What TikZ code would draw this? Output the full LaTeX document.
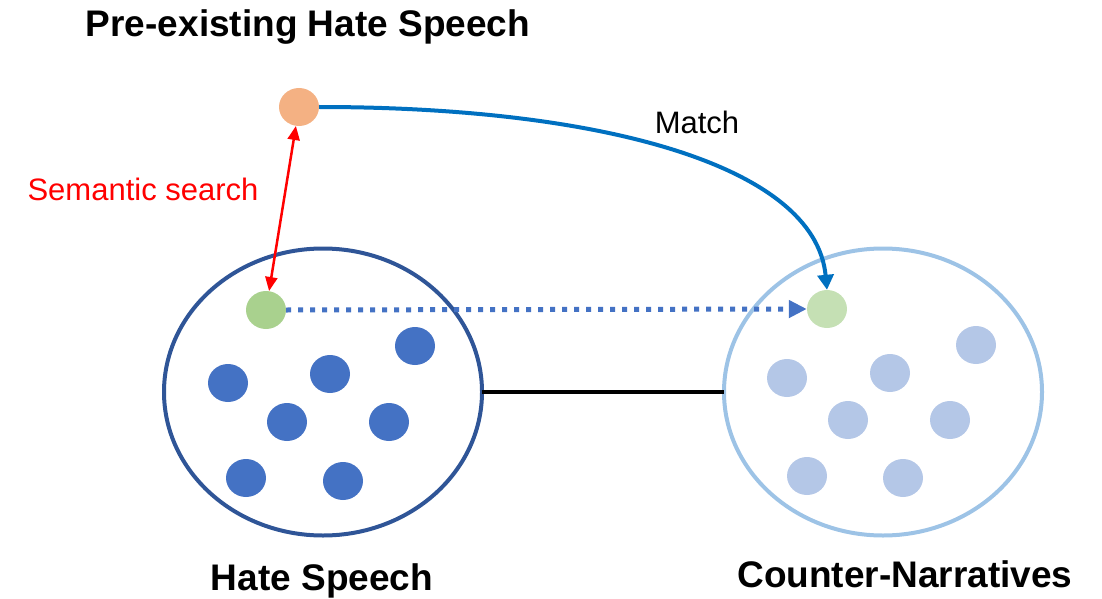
\documentclass[tikz,border=0pt]{standalone}
\usepackage{fontspec}
\setmainfont{Liberation Sans}
\usetikzlibrary{shapes.geometric,arrows.meta}
\definecolor{orng}{HTML}{F4B183}
\definecolor{grn}{HTML}{A9D18E}
\definecolor{lgrn}{HTML}{C5E0B4}
\definecolor{dotblue}{HTML}{4472C4}
\definecolor{ldotblue}{HTML}{B4C7E7}
\definecolor{darkring}{HTML}{2F5597}
\definecolor{lightring}{HTML}{9DC3E6}
\definecolor{curveblue}{HTML}{0070C0}
\tikzset{
  dot/.style={ellipse,inner sep=0pt,minimum width=40pt,minimum height=38pt,fill=#1,draw=none},
  ring/.style={ellipse,inner sep=0pt,outer sep=0pt,minimum width=318pt,minimum height=287pt,draw=#1,line width=4pt},
  title/.style={font=\fontsize{37}{40}\selectfont\bfseries,anchor=base},
  lbl/.style={font=\fontsize{31}{34}\selectfont,anchor=base},
}
\begin{document}
\begin{tikzpicture}[x=1pt,y=-1pt]
\useasboundingbox (0,0) rectangle (1102,599);
% rings
\node[ring=darkring] (L) at (323,392) {};
\node[ring=lightring] (R) at (883,392) {};
% dark dots
\node[dot=dotblue] (d1) at (228,383) {};
\node[dot=dotblue] (d2) at (330,374) {};
\node[dot=dotblue] (d3) at (415,346) {};
\node[dot=dotblue] (d4) at (287,422) {};
\node[dot=dotblue] (d5) at (389,422) {};
\node[dot=dotblue] (d6) at (246,478) {};
\node[dot=dotblue] (d7) at (343,481) {};
% light dots
\node[dot=ldotblue] (e1) at (787,378) {};
\node[dot=ldotblue] (e2) at (890,373) {};
\node[dot=ldotblue] (e3) at (976,345) {};
\node[dot=ldotblue] (e4) at (848,420) {};
\node[dot=ldotblue] (e5) at (950,420) {};
\node[dot=ldotblue] (e6) at (807,476) {};
\node[dot=ldotblue] (e7) at (903,478) {};
% special dots
\node[dot=orng] (O) at (299,107) {};
\node[dot=grn] (G1) at (266,310) {};
\node[dot=lgrn] (G2) at (827,309) {};
% connectors
\draw[line width=4pt] (L.east) -- (R.west);
\draw[red,line width=2.5pt,{Triangle[length=14pt,width=12pt]}-{Triangle[length=14pt,width=12pt]}] (O) -- (G1);
\draw[dotblue,line width=5pt,dash pattern=on 5pt off 7pt,-{Triangle[length=18pt,width=17pt]}] (G1.east) -- (G2.west);
\draw[curveblue,line width=4pt,-{Triangle[length=15pt,width=16pt]}] (O.east) .. controls (600,107) and (815,165) .. (G2.north);
% texts
\node[title] (t1) at (308,37) {Pre-existing Hate Speech};
\node[title] (t2) at (322,590) {Hate Speech};
\node[title] (t3) at (905,587) {Counter-Narratives};
\node[lbl] (m) at (697,133) {Match};
\node[lbl,text=red] (s) at (143,200) {Semantic search};
\end{tikzpicture}
\end{document}
